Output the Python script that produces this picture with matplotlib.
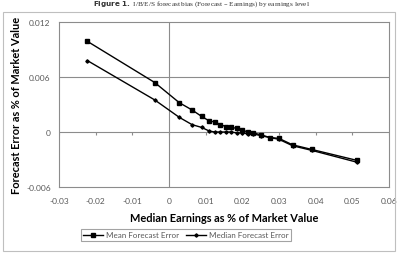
import matplotlib
matplotlib.use('Agg')
from matplotlib import pyplot as plt
import matplotlib.transforms as mtransforms
from matplotlib.patches import Rectangle

# median earnings / market value (x) for each group
earnings = [-0.0223, -0.0039, 0.0028, 0.0063, 0.0089, 0.0110, 0.0125, 0.0140, 0.0155, 0.0170,
            0.0185, 0.0200, 0.0215, 0.0230, 0.0250, 0.0275, 0.0300, 0.0337, 0.0389, 0.0513]
mean_error = [0.0099, 0.0054, 0.0032, 0.0024, 0.0017, 0.0012, 0.0011, 0.0008, 0.0006, 0.0005,
              0.0004, 0.0002, 0.0000, -0.0001, -0.0003, -0.0006, -0.0007, -0.0014, -0.0019, -0.0031]
median_error = [0.0078, 0.0035, 0.0016, 0.0008, 0.0005, 0.0001, 0.0000, 0.0000, 0.0000, 0.0000,
                -0.0001, -0.0001, -0.0002, -0.0002, -0.0004, -0.0006, -0.0008, -0.0015, -0.0020, -0.0033]

xticks = [-0.03, -0.02, -0.01, 0, 0.01, 0.02, 0.03, 0.04, 0.05, 0.06]
xticklabels = ['-0.03', '-0.02', '-0.01', '0', '0.01', '0.02', '0.03', '0.04', '0.05', '0.06']
yticks = [-0.006, 0, 0.006, 0.012]
yticklabels = ['-0.006', '0', '0.006', '0.012']

axis_grey = '#8c8c8c'
text_grey = '#595959'
sans = 'Lato'

W, H = 404, 255
fig = plt.figure(figsize=(W / 100, H / 100), dpi=100)

# outer chart border
fig.patches.append(Rectangle((3 / W, 1 - 252 / H), 392 / W, 239 / H, transform=fig.transFigure,
                             fill=False, edgecolor='#bfbfbf', linewidth=0.8))

fig.text(0.5, 1 - 4 / H, r'$\bf{Figure\ 1.}$ I/B/E/S forecast bias (Forecast – Earnings) by earnings level',
         ha='center', va='center', fontsize=5.2, family='Liberation Serif', color='#333333')

ax = fig.add_axes([59 / W, 1 - 188 / H, 330 / W, 165 / H])
ax.set_xlim(-0.03, 0.06)
ax.set_ylim(-0.006, 0.012)

for s in ax.spines.values():
    s.set_color(axis_grey)
    s.set_linewidth(0.8)

ax.axhline(0.006, color=axis_grey, lw=0.8, zorder=1)
ax.axhline(0, color=axis_grey, lw=0.8, zorder=1)
ax.axvline(0, color=axis_grey, lw=0.8, zorder=1)

# tick marks on the horizontal axis, which crosses at y = 0
tr = mtransforms.blended_transform_factory(ax.transData, ax.transAxes)
y0 = 6 / 18
ax.vlines(xticks, y0 - 0.02, y0, transform=tr, color=axis_grey, lw=0.8)

ax.set_xticks(xticks)
ax.set_xticklabels(xticklabels)
ax.set_yticks(yticks)
ax.set_yticklabels(yticklabels)
ax.tick_params(length=0, labelsize=6, labelcolor=text_grey)
ax.tick_params(axis='x', pad=7)
ax.tick_params(axis='y', pad=6)
for lab in ax.get_xticklabels() + ax.get_yticklabels():
    lab.set_family(sans)

ax.plot(earnings, mean_error, color='black', lw=1.0, marker='s', markersize=2.2,
        label='Mean Forecast Error', zorder=3)
ax.plot(earnings, median_error, color='black', lw=1.0, marker='D', markersize=1.7,
        label='Median Forecast Error', zorder=3)

ax.set_xlabel('Median Earnings as % of Market Value', fontsize=7.9, fontweight='bold',
              family=sans, color='black', labelpad=6)
ax.set_ylabel('Forecast Error as % of Market Value', fontsize=7.9, fontweight='bold',
              family=sans, color='black', labelpad=3)

leg = ax.legend(loc='center', bbox_to_anchor=(186 / W, 1 - 236 / H), bbox_transform=fig.transFigure,
                ncol=2, frameon=True, fancybox=False, borderpad=0.25,
                handlelength=2.5, columnspacing=0.8, handletextpad=0.4, prop={'family': sans, 'size': 5.8})
leg.get_frame().set_edgecolor(axis_grey)
leg.get_frame().set_linewidth(0.8)
for t in leg.get_texts():
    t.set_color(text_grey)

fig.savefig('out.png', dpi=100)
